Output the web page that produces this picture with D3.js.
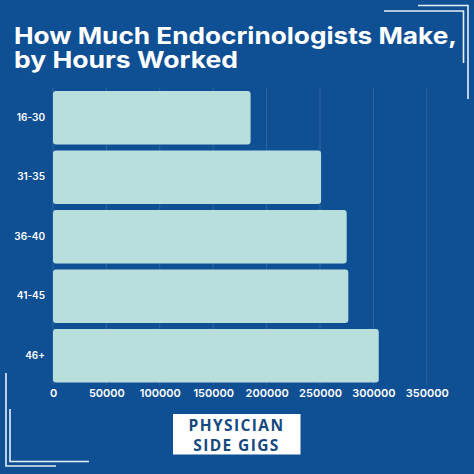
<!DOCTYPE html>
<html>
<head>
<meta charset="utf-8">
<script src="https://cdn.jsdelivr.net/npm/d3@7"></script>
<style>
  html, body { margin: 0; padding: 0; background: #0f4f94; }
  svg { display: block; }
  text { font-family: Inter, sans-serif; }
</style>
</head>
<body>
<svg id="chart" width="474" height="474"></svg>
<script>
const titleLines = ['How Much Endocrinologists Make,', 'by Hours Worked'];
const titleWidths = [443, 224];
const hours = ['16-30', '31-35', '36-40', '41-45', '46+'];
const pay = [185000, 251000, 275000, 276500, 305000];
const payTicks = [0, 50000, 100000, 150000, 200000, 250000, 300000, 350000];
const logoLines = ['PHYSICIAN', 'SIDE GIGS'];

const svg = d3.select('#chart');

const x = d3.scaleLinear().domain([0, 350000]).range([53, 426.8]);
const y = d3.scaleBand().domain(hours).range([88, 385.5]).paddingInner(0.1).paddingOuter(0.05);

// title, stretched a bit since the original face is wider
svg.append('g').selectAll('text')
  .data(titleLines)
  .join('text')
  .attr('x', 14)
  .attr('y', (d, i) => 43.5 + i * 24)
  .attr('fill', '#fff')
  .attr('font-size', 23)
  .attr('font-weight', 700)
  .attr('textLength', (d, i) => titleWidths[i])
  .attr('lengthAdjust', 'spacingAndGlyphs')
  .text(d => d);

// gridlines
svg.append('g').selectAll('line')
  .data(payTicks)
  .join('line')
  .attr('x1', d => x(d))
  .attr('x2', d => x(d))
  .attr('y1', 88)
  .attr('y2', 385)
  .attr('stroke', '#356ca8')
  .attr('stroke-width', 0.8);

// bars
svg.append('g').selectAll('rect')
  .data(hours)
  .join('rect')
  .attr('x', x(0))
  .attr('y', d => y(d))
  .attr('width', (d, i) => x(pay[i]) - x(0))
  .attr('height', y.bandwidth())
  .attr('rx', 3)
  .attr('fill', '#b9dfdd');

// axes
const xAxis = svg.append('g')
  .attr('transform', 'translate(0,385)')
  .call(d3.axisBottom(x).tickValues(payTicks).tickFormat(d3.format('d')).tickSize(0).tickPadding(4));
const yAxis = svg.append('g')
  .attr('transform', 'translate(53,0)')
  .call(d3.axisLeft(y).tickSize(0).tickPadding(8));
[xAxis, yAxis].forEach(a => {
  a.select('.domain').remove();
  a.selectAll('text')
    .attr('fill', '#fff')
    .attr('font-weight', 600)
    .style('font-family', 'Inter, sans-serif');
});
xAxis.selectAll('text').attr('font-size', 11);
yAxis.selectAll('text').attr('font-size', 10);

// corner brackets
const corners = [
  [[418, 5.5], [468, 5.5], [468, 99]],
  [[384, 11], [463.5, 11], [463.5, 63]],
  [[6, 373], [6, 466], [56, 466]],
  [[10, 409], [10, 461.5], [89, 461.5]]
];
svg.append('g').selectAll('path')
  .data(corners)
  .join('path')
  .attr('d', d3.line())
  .attr('fill', 'none')
  .attr('stroke', '#e6f1f6')
  .attr('stroke-width', 1.6);

// logo
const logo = svg.append('g');
logo.append('rect')
  .attr('x', 173)
  .attr('y', 414)
  .attr('width', 127.5)
  .attr('height', 40.5)
  .attr('fill', '#fff');
logo.selectAll('text')
  .data(logoLines)
  .join('text')
  .attr('x', 236.5)
  .attr('y', (d, i) => 430.5 + i * 20)
  .attr('text-anchor', 'middle')
  .attr('fill', '#15497f')
  .attr('font-size', 15.5)
  .attr('font-weight', 700)
  .attr('letter-spacing', 1.4)
  .style('font-family', '"Open Sans", sans-serif')
  .text(d => d);
</script>
</body>
</html>
